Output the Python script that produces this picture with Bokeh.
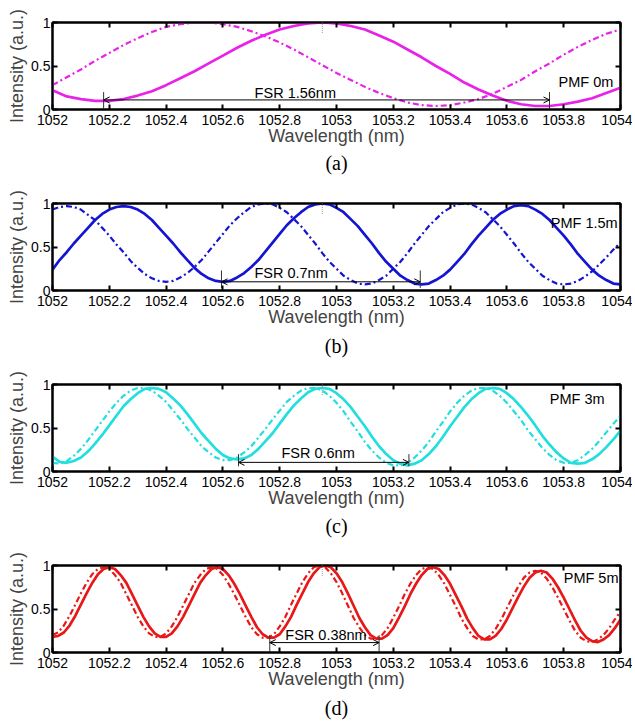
import numpy as np
from bokeh.plotting import figure
from bokeh.models import Range1d, LinearAxis, FixedTicker, Label, Arrow, OpenHead, Title
from bokeh.layouts import column
from bokeh.embed import file_html
from bokeh.resources import INLINE

# ---------------- data ----------------
X_TICKS = [1052.0, 1052.2, 1052.4, 1052.6, 1052.8, 1053.0, 1053.2, 1053.4, 1053.6, 1053.8, 1054.0]
X_TICK_LABELS = ["1052", "1052.2", "1052.4", "1052.6", "1052.8", "1053",
                 "1053.2", "1053.4", "1053.6", "1053.8", "1054"]
Y_TICKS = [0.0, 0.5, 1.0]
Y_TICK_LABELS = ["0", "0.5", "1"]

WL_A = np.linspace(1052.0, 1054.0, 41)
SOLID_A = [0.22, 0.15, 0.12, 0.10, 0.10, 0.12, 0.16, 0.21, 0.28, 0.36, 0.44, 0.53, 0.62, 0.71, 0.79, 0.86, 0.92, 0.96, 0.99, 1.00,
           0.99, 0.96, 0.92, 0.85, 0.78, 0.69, 0.60, 0.50, 0.41, 0.31, 0.23, 0.16, 0.10, 0.06, 0.04, 0.04, 0.06, 0.09, 0.13, 0.19, 0.25]
DASH_A = [0.28, 0.37, 0.46, 0.56, 0.65, 0.74, 0.82, 0.89, 0.95, 0.98, 1.00, 1.00, 0.98, 0.95, 0.90, 0.84, 0.77, 0.69, 0.60, 0.51,
          0.42, 0.34, 0.26, 0.19, 0.13, 0.08, 0.05, 0.04, 0.05, 0.08, 0.12, 0.18, 0.26, 0.34, 0.44, 0.53, 0.63, 0.72, 0.80, 0.87, 0.92]

WL_B = np.linspace(1052.0, 1054.0, 81)
SOLID_B = [0.24, 0.35, 0.44, 0.54, 0.63, 0.72, 0.81, 0.88, 0.93, 0.96, 0.97,
           0.96, 0.93, 0.88, 0.81, 0.72, 0.63, 0.54, 0.44, 0.35, 0.26, 0.19, 0.14, 0.11, 0.10,
           0.11, 0.15, 0.20, 0.27, 0.35, 0.45, 0.55, 0.65, 0.75, 0.83, 0.90, 0.96, 0.99, 1.00,
           0.99, 0.95, 0.90, 0.82, 0.74, 0.64, 0.54, 0.43, 0.33, 0.25, 0.17, 0.12, 0.08, 0.07,
           0.08, 0.12, 0.17, 0.24, 0.33, 0.42, 0.53, 0.63, 0.72, 0.81, 0.88, 0.93, 0.97, 0.98,
           0.97, 0.93, 0.88, 0.81, 0.72, 0.63, 0.53, 0.42, 0.33, 0.24, 0.17, 0.12, 0.08, 0.07]
DASH_B = [0.93, 0.96, 0.97,
          0.96, 0.93, 0.87, 0.81, 0.72, 0.63, 0.53, 0.44, 0.34, 0.26, 0.19, 0.14, 0.11, 0.10,
          0.11, 0.15, 0.20, 0.27, 0.35, 0.45, 0.55, 0.65, 0.75, 0.83, 0.90, 0.96, 0.99, 1.00,
          0.99, 0.95, 0.90, 0.82, 0.74, 0.64, 0.54, 0.43, 0.33, 0.25, 0.17, 0.12, 0.08, 0.07,
          0.08, 0.12, 0.17, 0.25, 0.33, 0.43, 0.54, 0.64, 0.74, 0.82, 0.90, 0.95, 0.99, 1.00,
          0.99, 0.95, 0.90, 0.82, 0.74, 0.64, 0.54, 0.43, 0.33, 0.25, 0.17, 0.12, 0.08, 0.07,
          0.08, 0.11, 0.16, 0.22, 0.30, 0.38, 0.47, 0.55]

WL_C = np.linspace(1052.0, 1054.0, 81)
SOLID_C = [0.17, 0.11, 0.10,
           0.12, 0.16, 0.23, 0.32, 0.42, 0.53, 0.64, 0.75, 0.83, 0.90, 0.95, 0.96,
           0.95, 0.91, 0.84, 0.76, 0.66, 0.55, 0.44, 0.35, 0.26, 0.19, 0.15, 0.14,
           0.15, 0.19, 0.26, 0.35, 0.44, 0.55, 0.66, 0.76, 0.84, 0.91, 0.95, 0.96,
           0.95, 0.90, 0.83, 0.74, 0.63, 0.52, 0.40, 0.29, 0.20, 0.13, 0.09, 0.07,
           0.09, 0.13, 0.20, 0.29, 0.40, 0.52, 0.63, 0.74, 0.83, 0.90, 0.95, 0.96,
           0.95, 0.90, 0.83, 0.74, 0.64, 0.53, 0.41, 0.31, 0.22, 0.15, 0.10, 0.09,
           0.10, 0.14, 0.20, 0.28, 0.37, 0.47]
DASH_C = [0.10, 0.09, 0.12, 0.18, 0.26, 0.36, 0.47, 0.58, 0.69, 0.79, 0.87, 0.93, 0.96,
          0.96, 0.93, 0.87, 0.80, 0.70, 0.60, 0.49, 0.39, 0.29, 0.22, 0.16, 0.13,
          0.13, 0.16, 0.22, 0.29, 0.39, 0.49, 0.60, 0.70, 0.80, 0.87, 0.93, 0.96,
          0.96, 0.93, 0.87, 0.79, 0.69, 0.57, 0.46, 0.34, 0.24, 0.16, 0.10, 0.07,
          0.07, 0.10, 0.16, 0.24, 0.34, 0.46, 0.57, 0.69, 0.79, 0.87, 0.93, 0.96,
          0.96, 0.93, 0.87, 0.79, 0.69, 0.59, 0.47, 0.37, 0.27, 0.19, 0.13, 0.10,
          0.10, 0.13, 0.19, 0.26, 0.35, 0.45, 0.55, 0.64]

WL_D = np.linspace(1052.0, 1054.0, 101)
SOLID_D = [0.18, 0.19, 0.23, 0.31, 0.42, 0.55, 0.68, 0.80, 0.90, 0.96, 0.98,
           0.96, 0.89, 0.80, 0.67, 0.54, 0.41, 0.30, 0.22, 0.18,
           0.18, 0.22, 0.30, 0.41, 0.54, 0.67, 0.80, 0.89, 0.96, 0.98,
           0.96, 0.89, 0.79, 0.67, 0.54, 0.41, 0.29, 0.21, 0.17,
           0.17, 0.21, 0.30, 0.41, 0.55, 0.68, 0.81, 0.91, 0.98, 1.00,
           0.98, 0.91, 0.81, 0.68, 0.54, 0.40, 0.29, 0.20, 0.16,
           0.16, 0.20, 0.28, 0.40, 0.53, 0.67, 0.79, 0.89, 0.96, 0.98,
           0.96, 0.89, 0.79, 0.66, 0.53, 0.39, 0.28, 0.19, 0.15,
           0.15, 0.19, 0.27, 0.38, 0.51, 0.64, 0.76, 0.86, 0.92, 0.94,
           0.92, 0.85, 0.75, 0.63, 0.50, 0.37, 0.25, 0.17, 0.13,
           0.12, 0.15, 0.20, 0.28, 0.38]
DASH_D = [0.20, 0.23, 0.31, 0.42, 0.55, 0.68, 0.80, 0.90, 0.96, 0.98,
          0.96, 0.89, 0.80, 0.67, 0.54, 0.41, 0.30, 0.22, 0.18,
          0.18, 0.22, 0.30, 0.41, 0.54, 0.67, 0.80, 0.89, 0.96, 0.98,
          0.96, 0.89, 0.79, 0.67, 0.54, 0.41, 0.29, 0.21, 0.17,
          0.17, 0.21, 0.30, 0.41, 0.55, 0.68, 0.81, 0.91, 0.98, 1.00,
          0.98, 0.91, 0.81, 0.68, 0.54, 0.40, 0.29, 0.20, 0.16,
          0.16, 0.20, 0.28, 0.40, 0.53, 0.67, 0.79, 0.89, 0.96, 0.98,
          0.96, 0.89, 0.79, 0.66, 0.53, 0.39, 0.28, 0.19, 0.15,
          0.15, 0.19, 0.27, 0.38, 0.51, 0.64, 0.76, 0.86, 0.92, 0.94,
          0.92, 0.85, 0.75, 0.63, 0.50, 0.37, 0.25, 0.17, 0.13,
          0.12, 0.15, 0.20, 0.28, 0.38, 0.47]

# FSR markers (start, end in nm) and labels
FSR_A = (1052.18, 1053.75)
FSR_B = (1052.595, 1053.295)
FSR_C = (1052.655, 1053.255)
FSR_D = (1052.765, 1053.15)
FSR_TEXT = ["FSR 1.56nm", "FSR 0.7nm", "FSR 0.6nm", "FSR 0.38nm"]
PMF_TEXT = ["PMF 0m", "PMF 1.5m", "PMF 3m", "PMF 5m"]
CAPTIONS = ["(a)", "(b)", "(c)", "(d)"]
MARK_WL = 1052.95

SANS = "Liberation Sans"
SERIF = "Liberation Serif"
FRAME_H = 87
FIG_W = 632
BORDER_L = 52
BORDER_T = 22
FRAME_W = 568


def style_axis(ax, label_size="14px"):
    ax.major_label_text_font = SANS
    ax.major_label_text_font_size = label_size
    ax.major_label_text_color = "black"
    ax.major_tick_in = 5
    ax.major_tick_out = 0
    ax.minor_tick_in = 0
    ax.minor_tick_out = 0
    ax.major_tick_line_width = 2
    ax.major_tick_line_color = "black"
    ax.axis_line_width = 2
    ax.axis_line_color = "black"


def make_panel(wl, solid, dash, color, fsr, fsr_text, fsr_tx, fsr_ty, arrow_y, vlo, vhi,
               pmf_text, pmf_x, pmf_y, caption, cap_standoff, height):
    p = figure(width=FIG_W, height=height, x_range=Range1d(1052, 1054), y_range=Range1d(0, 1),
               output_backend="svg", toolbar_location=None,
               min_border_left=BORDER_L, min_border_right=FIG_W - BORDER_L - FRAME_W,
               min_border_top=BORDER_T, min_border_bottom=height - BORDER_T - FRAME_H)
    p.xgrid.visible = False
    p.ygrid.visible = False
    p.outline_line_color = "black"
    p.outline_line_width = 2
    p.outline_line_alpha = 1.0
    p.background_fill_color = "white"
    p.border_fill_color = "white"

    xa = p.xaxis[0]
    xa.ticker = FixedTicker(ticks=X_TICKS)
    xa.major_label_overrides = dict(zip(X_TICKS, X_TICK_LABELS))
    style_axis(xa)
    xa.major_label_standoff = 5
    xa.axis_label = "Wavelength (nm)"
    xa.axis_label_text_font = SANS
    xa.axis_label_text_font_size = "18px"
    xa.axis_label_text_font_style = "normal"
    xa.axis_label_standoff = -2

    ya = p.yaxis[0]
    ya.ticker = FixedTicker(ticks=Y_TICKS)
    ya.major_label_overrides = dict(zip(Y_TICKS, Y_TICK_LABELS))
    style_axis(ya)
    ya.major_label_standoff = 2
    ya.axis_label = "Intensity (a.u.)"
    ya.axis_label_text_font = SANS
    ya.axis_label_text_font_size = "18px"
    ya.axis_label_text_font_style = "normal"
    ya.axis_label_standoff = 1

    top = LinearAxis(ticker=FixedTicker(ticks=X_TICKS), major_label_standoff=0)
    style_axis(top, "1px")
    top.major_label_text_color = None
    p.add_layout(top, "above")
    right = LinearAxis(ticker=FixedTicker(ticks=Y_TICKS), major_label_standoff=0)
    style_axis(right, "1px")
    right.major_label_text_color = None
    p.add_layout(right, "right")

    cap = Title(text=caption, align="center", text_font=SERIF, text_font_size="20px",
                text_font_style="normal", text_color="black", standoff=cap_standoff)
    p.add_layout(cap, "below")

    p.line(wl, dash, line_color=color, line_width=2.2, line_dash="6 3 2 3")
    p.line(wl, solid, line_color=color, line_width=2.7)

    # small dotted marker at the reference wavelength
    p.add_layout(Arrow(start=None, end=None, x_start=MARK_WL, y_start=0.88, x_end=MARK_WL, y_end=1.09,
                       line_color="#999999", line_width=1, line_dash="1 1"))

    # FSR annotation
    p.segment(x0=[fsr[0], fsr[1]], y0=[vlo, vlo], x1=[fsr[0], fsr[1]], y1=[vhi, vhi],
              line_color="#333333", line_width=1)
    p.add_layout(Arrow(start=OpenHead(size=6, line_width=1, line_color="black"),
                       end=OpenHead(size=6, line_width=1, line_color="black"),
                       x_start=fsr[0], y_start=arrow_y, x_end=fsr[1], y_end=arrow_y,
                       line_color="black", line_width=1))
    p.add_layout(Label(x=fsr_tx, y=fsr_ty, text=fsr_text, text_align="center",
                       text_baseline="alphabetic", text_font=SANS, text_font_size="14.5px",
                       text_color="black"))
    p.add_layout(Label(x=pmf_x, y=pmf_y, text=pmf_text, text_align="right",
                       text_baseline="alphabetic", text_font=SANS, text_font_size="14.5px",
                       text_color="black"))
    return p


pa = make_panel(WL_A, SOLID_A, DASH_A, "#E822E8", FSR_A, FSR_TEXT[0], 1052.855, 0.195, 0.11, 0.01, 0.2,
                PMF_TEXT[0], 1053.975, 0.32, CAPTIONS[0], 2, 181)
pb = make_panel(WL_B, SOLID_B, DASH_B, "#1414D2", FSR_B, FSR_TEXT[1], 1052.84, 0.20, 0.10, 0.03, 0.23,
                PMF_TEXT[1], 1053.99, 0.78, CAPTIONS[1], 6, 181)
pc = make_panel(WL_C, SOLID_C, DASH_C, "#22DEDE", FSR_C, FSR_TEXT[2], 1052.935, 0.21, 0.105, 0.06, 0.2,
                PMF_TEXT[2], 1053.944, 0.83, CAPTIONS[2], 5, 181)
pd = make_panel(WL_D, SOLID_D, DASH_D, "#E81818", FSR_D, FSR_TEXT[3], 1052.963, 0.205, 0.114, 0.0, 0.2,
                PMF_TEXT[3], 1053.993, 0.86, CAPTIONS[3], 7, 182)

layout = column(pa, pb, pc, pd, spacing=0)
open("out.html", "w").write(file_html(layout, INLINE))
